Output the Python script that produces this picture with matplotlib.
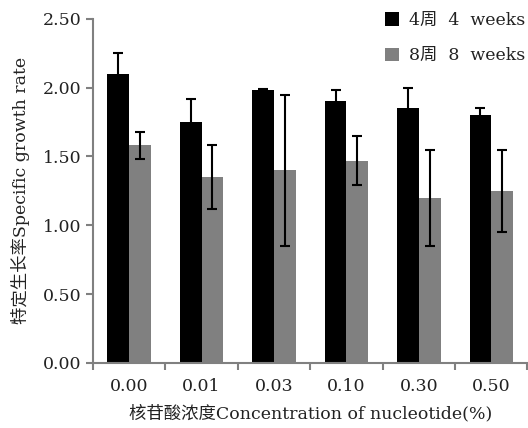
import numpy as np
import matplotlib.pyplot as plt

plt.rcParams['font.family'] = ['DejaVu Serif', 'Noto Sans CJK SC']

# data
concentrations = ['0.00', '0.01', '0.03', '0.10', '0.30', '0.50']
week4 = [2.10, 1.75, 1.98, 1.90, 1.85, 1.80]
week4_err = [0.15, 0.17, 0.01, 0.08, 0.15, 0.05]
week8 = [1.58, 1.35, 1.40, 1.47, 1.20, 1.25]
week8_err = [0.10, 0.23, 0.55, 0.18, 0.35, 0.30]
labels = ['4周  4  weeks', '8周  8  weeks']

fig = plt.figure(figsize=(5.28, 4.28), dpi=100)
ax = fig.add_axes([0.176, 0.152, 0.823, 0.804])

x = np.arange(len(concentrations)) + 0.5
w = 0.3
ax.bar(x - w / 2, week4, w, color='black', label=labels[0])
ax.bar(x + w / 2, week8, w, color='#808080', label=labels[1])
ax.errorbar(x - w / 2, week4, yerr=week4_err, fmt='none', ecolor='black',
            elinewidth=1.5, capsize=3.3, capthick=1.5)
ax.errorbar(x + w / 2, week8, yerr=week8_err, fmt='none', ecolor='black',
            elinewidth=1.5, capsize=3.3, capthick=1.5)

ax.set_xlim(0, 6)
ax.set_ylim(0, 2.5)
yt = np.arange(0, 2.51, 0.5)
ax.set_yticks(yt)
ax.set_yticklabels([f'{v:.2f}' for v in yt])
ax.set_xticks(np.arange(0, 7))
ax.set_xticklabels([])
ax.set_xticks(x, minor=True)
ax.set_xticklabels(concentrations, minor=True)
ax.tick_params(axis='x', which='minor', length=0, pad=11)
ax.tick_params(axis='both', which='major', color='#808080', width=1.5,
               length=5, labelsize=12.5, labelcolor='#222222')
ax.tick_params(axis='x', which='minor', labelsize=12.5, labelcolor='#222222')

for s in ['top', 'right']:
    ax.spines[s].set_visible(False)
for s in ['left', 'bottom']:
    ax.spines[s].set_color('#808080')
    ax.spines[s].set_linewidth(1.5)

ax.set_ylabel('特定生长率Specific growth rate', fontsize=12.5, labelpad=9,
              color='#222222')
ax.set_xlabel('核苷酸浓度Concentration of nucleotide(%)', fontsize=12.5,
              labelpad=7, color='#222222')

ax.legend(loc='upper right', frameon=False, fontsize=12.5, handlelength=0.8,
          handleheight=0.8, handletextpad=0.6, labelspacing=1.05,
          borderaxespad=0.0, borderpad=0.0, bbox_to_anchor=(0.995, 1.02),
          labelcolor='#222222')

fig.savefig('out.png', dpi=100)
